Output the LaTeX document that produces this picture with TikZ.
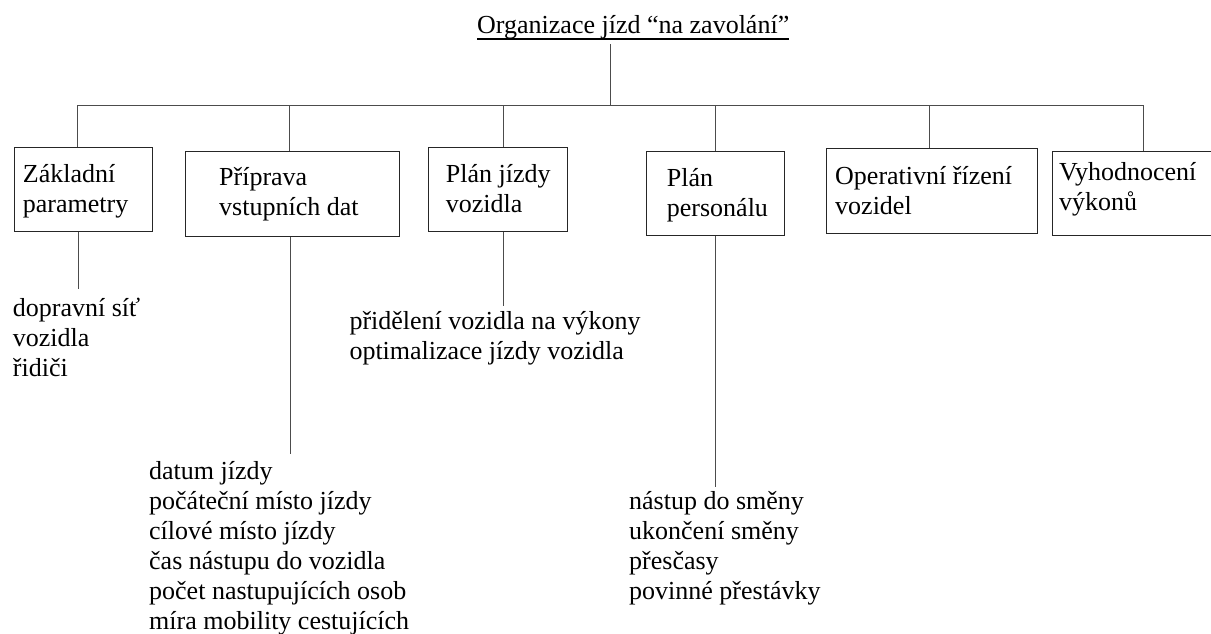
\documentclass[tikz,border=0pt]{standalone}
\usepackage{fontspec}
\setmainfont{Liberation Serif}
\newcommand\mylines[1]{\begin{tabular}[t]{@{}l@{}}#1\end{tabular}}
\tikzset{
  box/.style={draw=black!85, line width=0.9pt, rectangle, inner sep=0pt, anchor=north west},
  txt/.style={inner sep=0pt, anchor=base west, font=\fontsize{26}{30}\selectfont},
  link/.style={draw=black!70, line width=0.9pt},
}
\begin{document}
\begin{tikzpicture}[x=1pt,y=-1pt]
\useasboundingbox[fill=white] (0,0) rectangle (1211,633);
% title
\node[txt] (title) at (477,33) {Organizace jízd “na zavolání”};
\draw[line width=1.4pt] ([yshift=-6pt]title.base west) -- ([yshift=-6pt]title.base east);
% boxes
\node[box, minimum width=138.8pt, minimum height=84.3pt] (b1) at (13.5,146.7) {};
\node[box, minimum width=214pt,   minimum height=85.3pt] (b2) at (185.3,150.7) {};
\node[box, minimum width=138.8pt, minimum height=84.3pt] (b3) at (427.9,146.7) {};
\node[box, minimum width=138.4pt, minimum height=84.6pt] (b4) at (645.9,150.7) {};
\node[box, minimum width=211.6pt, minimum height=84.4pt] (b5) at (825.7,148.3) {};
\node[box, minimum width=170pt,   minimum height=84.6pt] (b6) at (1052.3,150.7) {};
% box texts
\node[txt] (n1) at (22.7,182) {\mylines{Základní\\parametry}};
\node[txt] (n2) at (219,185) {\mylines{Příprava\\vstupních dat}};
\node[txt] (n3) at (445.7,182) {\mylines{Plán jízdy\\vozidla}};
\node[txt] (n4) at (666.7,186) {\mylines{Plán\\personálu}};
\node[txt] (n5) at (835,184) {\mylines{Operativní řízení\\vozidel}};
\node[txt] (n6) at (1059,180) {\mylines{Vyhodnocení\\výkonů}};
% lists
\node[txt] (l1) at (12.7,316) {\mylines{dopravní síť\\vozidla\\řidiči}};
\node[txt] (l2) at (149,479) {\mylines{datum jízdy\\počáteční místo jízdy\\cílové místo jízdy\\čas nástupu do vozidla\\počet nastupujících osob\\míra mobility cestujících}};
\node[txt] (l3) at (349.3,329.3) {\mylines{přidělení vozidla na výkony\\optimalizace jízdy vozidla}};
\node[txt] (l4) at (629,509) {\mylines{nástup do směny\\ukončení směny\\přesčasy\\povinné přestávky}};
% connectors
\coordinate (ttop) at (610,44);
\coordinate (hub) at (610,105);
\coordinate (d1) at (77.7,105);
\coordinate (d2) at (289.3,105);
\coordinate (d3) at (503.7,105);
\coordinate (d4) at (715.3,105);
\coordinate (d5) at (929.3,105);
\coordinate (d6) at (1143.3,105);
\draw[link] (ttop) -- (hub);
\draw[link] (d1) -- (d6);
\foreach \i in {1,...,6} \draw[link] (d\i) -- (d\i |- b\i.north);
\coordinate (e1) at (78.3,289);
\coordinate (e2) at (290,454);
\coordinate (e3) at (503.7,306);
\coordinate (e4) at (715.4,486.7);
\foreach \i in {1,...,4} \draw[link] (b\i.south -| e\i) -- (e\i);
\end{tikzpicture}
\end{document}
